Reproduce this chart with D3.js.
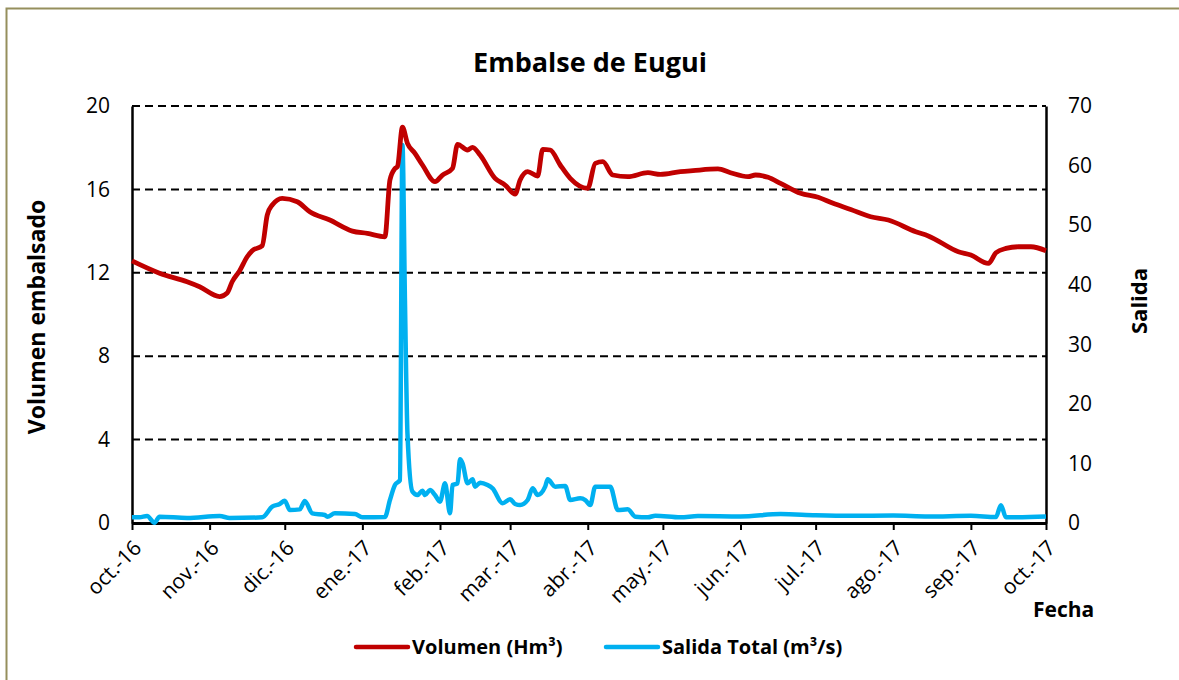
<!DOCTYPE html>
<html>
<head>
<meta charset="utf-8">
<script src="https://cdn.jsdelivr.net/npm/d3@7"></script>
<style>
  body { margin: 0; background: #fff; }
  svg { display: block; font-family: "Open Sans", sans-serif; }
</style>
</head>
<body>
<svg id="chart" width="1179" height="680"></svg>
<script>
// ---- Data ----
const volumeDates = ["2016-10-01","2016-10-12","2016-10-23","2016-10-28","2016-11-05","2016-11-08","2016-11-10","2016-11-13","2016-11-16","2016-11-18","2016-11-22","2016-11-24","2016-11-26","2016-11-30","2016-12-06","2016-12-11","2016-12-19","2016-12-28","2017-01-03","2017-01-10","2017-01-12","2017-01-14","2017-01-15","2017-01-17","2017-01-19","2017-01-22","2017-01-25","2017-01-30","2017-02-02","2017-02-06","2017-02-08","2017-02-12","2017-02-14","2017-02-17","2017-02-23","2017-02-27","2017-03-03","2017-03-05","2017-03-08","2017-03-12","2017-03-14","2017-03-17","2017-03-21","2017-03-25","2017-04-01","2017-04-04","2017-04-07","2017-04-11","2017-04-17","2017-04-25","2017-04-30","2017-05-08","2017-05-13","2017-05-23","2017-05-28","2017-06-04","2017-06-07","2017-06-12","2017-06-17","2017-06-25","2017-07-02","2017-07-08","2017-07-15","2017-07-23","2017-07-30","2017-08-10","2017-08-15","2017-08-27","2017-09-01","2017-09-08","2017-09-11","2017-09-15","2017-09-20","2017-09-25","2017-10-01"];
const volumeValues = [12.57,11.98,11.57,11.33,10.86,11.03,11.57,12.1,12.77,13.06,13.3,14.77,15.25,15.57,15.41,14.93,14.53,14.0,13.89,13.73,16.45,17.0,17.09,18.98,18.21,17.73,17.17,16.37,16.69,17.01,18.16,17.89,18.02,17.65,16.53,16.21,15.78,16.45,16.85,16.64,17.92,17.89,17.17,16.53,16.05,17.25,17.33,16.69,16.61,16.8,16.72,16.85,16.9,16.98,16.8,16.61,16.69,16.58,16.29,15.81,15.62,15.33,15.04,14.69,14.53,13.97,13.77,13.01,12.85,12.45,12.96,13.17,13.25,13.25,13.06];

const outflowDates = ["2016-10-01","2016-10-04","2016-10-07","2016-10-10","2016-10-12","2016-10-23","2016-11-05","2016-11-09","2016-11-22","2016-11-26","2016-11-29","2016-12-01","2016-12-03","2016-12-07","2016-12-09","2016-12-12","2016-12-17","2016-12-18","2016-12-21","2016-12-29","2017-01-01","2017-01-10","2017-01-12","2017-01-14","2017-01-16","2017-01-17","2017-01-18","2017-01-19","2017-01-21","2017-01-23","2017-01-25","2017-01-26","2017-01-28","2017-01-30","2017-02-01","2017-02-03","2017-02-05","2017-02-06","2017-02-08","2017-02-09","2017-02-10","2017-02-12","2017-02-14","2017-02-15","2017-02-17","2017-02-20","2017-02-22","2017-02-26","2017-03-01","2017-03-03","2017-03-05","2017-03-08","2017-03-10","2017-03-12","2017-03-15","2017-03-16","2017-03-19","2017-03-23","2017-03-25","2017-03-29","2017-03-31","2017-04-02","2017-04-04","2017-04-07","2017-04-10","2017-04-13","2017-04-17","2017-04-20","2017-04-25","2017-04-28","2017-05-08","2017-05-15","2017-06-01","2017-06-17","2017-07-01","2017-07-15","2017-08-01","2017-08-15","2017-09-01","2017-09-11","2017-09-13","2017-09-15","2017-10-01"];
const outflowValues = [0.95,0.95,1.17,0.05,1.06,0.84,1.17,0.84,0.95,2.74,3.19,3.75,2.18,2.29,3.69,1.62,1.34,1.06,1.62,1.51,0.95,1.0,3.86,6.38,7.2,63.46,37.4,15.06,5.26,4.7,5.43,4.7,5.54,4.7,3.58,6.66,1.62,6.38,6.66,10.69,10.02,6.66,7.33,6.1,6.77,6.38,5.82,3.3,3.97,3.19,3.02,3.86,5.82,4.7,6.1,7.33,6.1,6.21,3.86,4.14,3.86,3.02,6.1,6.1,6.1,2.18,2.29,1.06,0.95,1.23,0.95,1.17,1.1,1.5,1.3,1.2,1.25,1.1,1.2,1.0,3.0,0.95,1.1];

const leftTicks = [0, 4, 8, 12, 16, 20];
const rightTicks = [0, 10, 20, 30, 40, 50, 60, 70];
const monthLabels = ["oct.-16","nov.-16","dic.-16","ene.-17","feb.-17","mar.-17","abr.-17","may.-17","jun.-17","jul.-17","ago.-17","sep.-17","oct.-17"];
const monthStarts = ["2016-10-01","2016-11-01","2016-12-01","2017-01-01","2017-02-01","2017-03-01","2017-04-01","2017-05-01","2017-06-01","2017-07-01","2017-08-01","2017-09-01","2017-10-01"];

// ---- Layout ----
const svg = d3.select("#chart");
const L = 132, R = 1046, T = 106, B = 523;
const parse = d3.utcParse("%Y-%m-%d");
const FONT = "'Open Sans', sans-serif";

const x = d3.scaleUtc().domain([parse(monthStarts[0]), parse(monthStarts[monthStarts.length-1])]).range([L, R]);
const yL = d3.scaleLinear().domain([0, 20]).range([B, T]);
const yR = d3.scaleLinear().domain([0, 70]).range([B, T]);

// outer frame
svg.append("rect").attr("x", 6.5).attr("y", 8.5).attr("width", 1190).attr("height", 700)
  .attr("fill", "none").attr("stroke", "#958f5d").attr("stroke-width", 2);

// gridlines
svg.append("g").selectAll("line").data(leftTicks.filter(d => d > 0)).join("line")
  .attr("x1", L).attr("x2", R).attr("y1", d => yL(d)).attr("y2", d => yL(d))
  .attr("stroke", "#000").attr("stroke-width", 2).attr("stroke-dasharray", "8,5");

// left axis
const gL = svg.append("g").attr("transform", `translate(${L},0)`)
  .call(d3.axisLeft(yL).tickValues(leftTicks).tickSize(0).tickPadding(22).tickFormat(d3.format("d")));
gL.attr("font-family", FONT).attr("font-size", 21);
gL.select(".domain").attr("stroke", "#000").attr("stroke-width", 2.5);
gL.selectAll("text").attr("fill", "#000");

// right axis
const gR = svg.append("g").attr("transform", `translate(${R},0)`)
  .call(d3.axisRight(yR).tickValues(rightTicks).tickSize(0).tickPadding(22).tickFormat(d3.format("d")));
gR.attr("font-family", FONT).attr("font-size", 21);
gR.select(".domain").attr("stroke", "#000").attr("stroke-width", 2.5);
gR.selectAll("text").attr("fill", "#000");

// bottom axis
const ticks = monthStarts.map(parse);
const gB = svg.append("g").attr("transform", `translate(0,${B})`)
  .call(d3.axisBottom(x).tickValues(ticks).tickSize(7).tickSizeOuter(0)
    .tickFormat((d, i) => monthLabels[i]));
gB.attr("font-family", FONT).attr("font-size", 21);
gB.select(".domain").attr("stroke", "#000").attr("stroke-width", 3);
gB.selectAll(".tick line").attr("stroke", "#000").attr("stroke-width", 2);
gB.selectAll("text").attr("fill", "#000")
  .attr("text-anchor", "end").attr("dy", "0.35em")
  .attr("transform", "translate(5,21) rotate(-45)").attr("x", 0).attr("y", 0);

// lines
const volData = volumeDates.map((d, i) => ({ d: parse(d), v: volumeValues[i] }));
const outData = outflowDates.map((d, i) => ({ d: parse(d), v: outflowValues[i] }));

svg.append("path").datum(outData)
  .attr("fill", "none").attr("stroke", "#00b0f0").attr("stroke-width", 4.5)
  .attr("stroke-linejoin", "round")
  .attr("d", d3.line().x(p => x(p.d)).y(p => yR(p.v)).curve(d3.curveMonotoneX));

svg.append("path").datum(volData)
  .attr("fill", "none").attr("stroke", "#c00000").attr("stroke-width", 4.8)
  .attr("stroke-linejoin", "round")
  .attr("d", d3.line().x(p => x(p.d)).y(p => yL(p.v)).curve(d3.curveMonotoneX));

// titles
svg.append("text").attr("x", 590).attr("y", 72).attr("text-anchor", "middle")
  .attr("font-size", 27).attr("font-weight", "bold").text("Embalse de Eugui");
svg.append("text").attr("transform", "translate(45,317) rotate(-90)").attr("text-anchor", "middle")
  .attr("font-size", 23).attr("font-weight", "bold").text("Volumen embalsado");
svg.append("text").attr("transform", "translate(1147,301) rotate(-90)").attr("text-anchor", "middle")
  .attr("font-size", 22).attr("font-weight", "bold").text("Salida");
svg.append("text").attr("x", 1033).attr("y", 617)
  .attr("font-size", 21).attr("font-weight", "bold").text("Fecha");

// legend
const legend = [
  { label: "Volumen (Hm³)", color: "#c00000", x: 356 },
  { label: "Salida Total (m³/s)", color: "#00b0f0", x: 606 }
];
const lg = svg.append("g");
legend.forEach(it => {
  lg.append("line").attr("x1", it.x).attr("x2", it.x + 52).attr("y1", 647).attr("y2", 647)
    .attr("stroke", it.color).attr("stroke-width", 4.5).attr("stroke-linecap", "round");
  lg.append("text").attr("x", it.x + 56).attr("y", 654)
    .attr("font-size", 20).attr("font-weight", "bold").text(it.label);
});
</script>
</body>
</html>
